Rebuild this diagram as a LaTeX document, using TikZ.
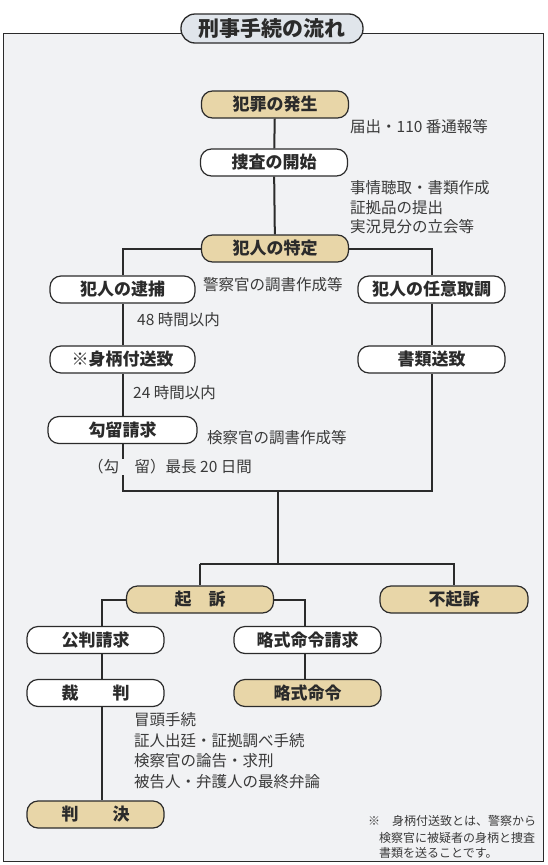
\documentclass[tikz,border=0pt]{standalone}
\usepackage{fontspec}
\setmainfont{Noto Sans CJK JP}
\usetikzlibrary{calc}
\definecolor{boxtan}{HTML}{E8D6A8}
\definecolor{bgray}{HTML}{F1F2F4}
\definecolor{titlefill}{HTML}{E0E5EB}
\definecolor{ink}{HTML}{2B2B2B}
\definecolor{labelink}{HTML}{3A3A3A}
\begin{document}
\begin{tikzpicture}[x=1pt,y=-1pt,
  box/.style={draw=ink, line width=1.2pt, rounded corners=11pt, minimum height=27pt,
    minimum width=147pt, inner sep=0pt, font=\fontsize{17}{20}\selectfont\bfseries,
    text=ink, fill=white},
  tanbox/.style={box, fill=boxtan},
  lbl/.style={anchor=west, inner sep=0pt, font=\fontsize{15.5}{19}\selectfont, text=labelink},
  note/.style={anchor=west, inner sep=0pt, font=\fontsize{12}{15}\selectfont, text=labelink},
  conn/.style={draw=ink, line width=2pt},
]
\useasboundingbox (0,0) rectangle (547,865);
\fill[white] (0,0) rectangle (547,865);
\draw[ink, line width=1pt, fill=bgray] (3,33) rectangle (543,861);

% title
\node[draw=ink, line width=1.3pt, fill=titlefill, rounded corners=14pt, minimum width=182pt,
  minimum height=29pt, inner sep=0pt, font=\fontsize{21}{24}\selectfont\bfseries, text=ink]
  (title) at (272,28.5) {刑事手続の流れ};

% nodes
\node[tanbox] (hassei) at (275,104.5) {犯罪の発生};
\node[box] (sousa) at (274,162.5) {捜査の開始};
\node[tanbox] (tokutei) at (275,248.5) {犯人の特定};
\node[box, minimum width=145pt] (taiho) at (122.5,289.5) {犯人の逮捕};
\node[box] (nini) at (431.5,289.5) {犯人の任意取調};
\node[box, minimum width=145pt] (migara) at (122.5,359.5) {※身柄付送致};
\node[box] (shorui) at (431.5,359.5) {書類送致};
\node[box, minimum width=149pt] (koryu) at (122.5,430) {勾留請求};
\node[tanbox] (kiso) at (200,599.5) {起　訴};
\node[tanbox, minimum width=148pt] (fukiso) at (454,599.5) {不起訴};
\node[box, minimum width=137pt] (kohan) at (95.5,640) {公判請求};
\node[box] (ryakus) at (307.5,640) {略式命令請求};
\node[box, minimum width=137pt] (saiban) at (95.5,693) {裁　　判};
\node[tanbox] (ryakum) at (307.5,693) {略式命令};
\node[tanbox, minimum width=137pt] (hanketsu) at (95.5,814.5) {判　　決};

% junction points
\coordinate (jL) at (122.5,491);
\coordinate (jR) at (431.5,491);
\coordinate (jM) at (278,491);
\coordinate (jM2) at (278,564);

% connectors
\draw[conn] (hassei) -- (sousa);
\draw[conn] (sousa) -- (tokutei);
\draw[conn] (tokutei.west) -| (taiho.north);
\draw[conn] (tokutei.east) -| (nini.north);
\draw[conn] (taiho) -- (migara);
\draw[conn] (migara) -- (koryu);
\draw[conn] (nini) -- (shorui);
\draw[conn] (koryu.south) -- (jL) -- (jR) -- (shorui.south);
\draw[conn] (jM) -- (jM2);
\draw[conn] (kiso.north |- jM2) -- (kiso.north);
\draw[conn] (kiso.north |- jM2) -| (fukiso.north);
\draw[conn] (kiso.west) -| ($(kohan.north)+(6,0)$);
\draw[conn] (kiso.east) -| ($(ryakus.north)+(-3,0)$);
\draw[conn] ($(kohan.south)+(6,0)$) -- ($(saiban.north)+(6,0)$);
\draw[conn] ($(saiban.south)+(6,0)$) -- ($(hanketsu.north)+(6,0)$);
\draw[conn] ($(ryakus.south)+(-3,0)$) -- ($(ryakum.north)+(-3,0)$);

% labels
\node[lbl] (l1) at (350,127) {届出・110 番通報等};
\node[lbl] (l2a) at (350,188) {事情聴取・書類作成};
\node[lbl] (l2b) at (350,208) {証拠品の提出};
\node[lbl] (l2c) at (350,227) {実況見分の立会等};
\node[lbl] (l3) at (203,285) {警察官の調書作成等};
\node[lbl] (l4) at (137,320) {48 時間以内};
\node[lbl] (l5) at (133,393) {24 時間以内};
\node[lbl] (l6) at (207,438) {検察官の調書作成等};
\node[lbl, fill=bgray, inner ysep=1pt] (l7) at (88,467) {（勾　留）最長 20 日間};
\node[lbl] (t1) at (134,720) {冒頭手続};
\node[lbl] (t2) at (134,740.5) {証人出廷・証拠調べ手続};
\node[lbl] (t3) at (134,761) {検察官の論告・求刑};
\node[lbl] (t4) at (134,781.5) {被告人・弁護人の最終弁論};

% footnote
\node[note] (n1) at (368,821) {※　身柄付送致とは、警察から};
\node[note] (n2) at (379,838) {検察官に被疑者の身柄と捜査};
\node[note] (n3) at (379,853) {書類を送ることです。};
\end{tikzpicture}
\end{document}
